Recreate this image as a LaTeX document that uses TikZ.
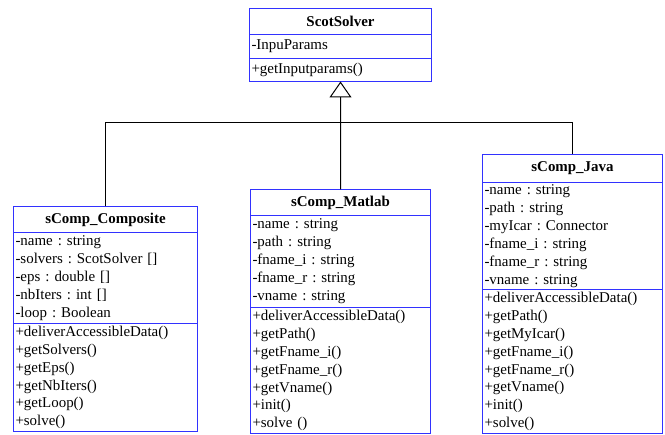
\documentclass[tikz,border=0pt]{standalone}
\usepackage{fontspec}
\setmainfont{Liberation Serif}
\usetikzlibrary{arrows.meta}
\definecolor{umlblue}{RGB}{50,50,255}
\frenchspacing
\begin{document}
\begin{tikzpicture}[x=1bp,y=-1bp,
  band/.style={rectangle, anchor=north west, outer sep=0pt,
    inner xsep=2bp, inner ysep=0pt, align=left, font=\fontsize{15}{18}\selectfont\frenchspacing},
  titleband/.style={rectangle, anchor=north west, outer sep=0pt,
    inner sep=0pt, font=\fontsize{15}{18}\selectfont\bfseries},
  boxline/.style={draw=umlblue, line width=1bp},
  conn/.style={draw=black, line width=1bp}]
\useasboundingbox (0,0) rectangle (665,435);

% ScotSolver
\node[titleband, minimum width=182bp, minimum height=26bp] (scotT) at (249.5,8.5) {ScotSolver};
\node[band, minimum width=182bp, minimum height=24bp, text width=178bp] (scotA) at (249.5,34.5) {-InpuParams};
\node[band, minimum width=182bp, minimum height=23bp, text width=178bp] (scotM) at (249.5,58.5) {+getInputparams()};

% sComp_Composite
\node[titleband, minimum width=184bp, minimum height=26bp] (compT) at (13.5,206.5) {sComp\_Composite};
\node[band, minimum width=184bp, minimum height=91bp, text width=180bp] (compA) at (13.5,232.5)
  {-name : string\\-solvers : ScotSolver []\\-eps : double []\\-nbIters : int []\\-loop : Boolean};
\node[band, minimum width=184bp, minimum height=108bp, text width=180bp] (compM) at (13.5,323.5)
  {+deliverAccessibleData()\\+getSolvers()\\+getEps()\\+getNbIters()\\+getLoop()\\+solve()};

% sComp_Matlab
\node[titleband, minimum width=180bp, minimum height=26bp] (matT) at (250.5,189.5) {sComp\_Matlab};
\node[band, minimum width=180bp, minimum height=92bp, text width=176bp] (matA) at (250.5,215.5)
  {-name : string\\-path : string\\-fname\_i : string\\-fname\_r : string\\-vname : string};
\node[band, minimum width=180bp, minimum height=126bp, text width=176bp] (matM) at (250.5,307.5)
  {+deliverAccessibleData()\\+getPath()\\+getFname\_i()\\+getFname\_r()\\+getVname()\\+init()\\+solve ()};

% sComp_Java
\node[titleband, minimum width=180bp, minimum height=28bp] (javT) at (482.5,154.5) {sComp\_Java};
\node[band, minimum width=180bp, minimum height=107bp, text width=176bp] (javA) at (482.5,182.5)
  {-name : string\\-path : string\\-myIcar : Connector\\-fname\_i : string\\-fname\_r : string\\-vname : string};
\node[band, minimum width=180bp, minimum height=144bp, text width=176bp] (javM) at (482.5,289.5)
  {+deliverAccessibleData()\\+getPath()\\+getMyIcar()\\+getFname\_i()\\+getFname\_r()\\+getVname()\\+init()\\+solve()};

% class box outlines
\foreach \b in {scotT,scotA,scotM,compT,compA,compM,matT,matA,matM,javT,javA,javM}
  \draw[boxline] (\b.north west) rectangle (\b.south east);

% generalization
\coordinate (bus) at (340.5,122.5);
\draw[conn, -{Triangle[open, length=16bp, width=22bp, fill=white]}] (matT.north) -- (scotM.south);
\draw[conn] (compT.north) -- (compT.north |- bus) -- (javT.north |- bus) -- (javT.north);
\end{tikzpicture}
\end{document}
